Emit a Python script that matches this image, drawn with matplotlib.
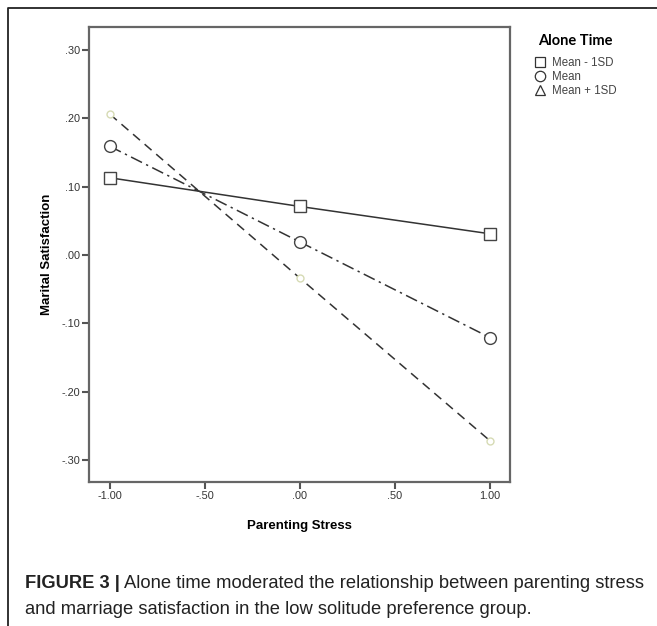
import matplotlib
matplotlib.use("Agg")
import matplotlib.pyplot as plt
from matplotlib.lines import Line2D

# data
stress = [-1.0, 0.0, 1.0]
low_alone = [0.113, 0.071, 0.031]      # Mean - 1SD
mean_alone = [0.159, 0.019, -0.121]    # Mean
high_alone = [0.206, -0.034, -0.272]   # Mean + 1SD

x_ticks = [-1.0, -0.5, 0.0, 0.5, 1.0]
x_labels = ["-1.00", "-.50", ".00", ".50", "1.00"]
y_ticks = [-0.3, -0.2, -0.1, 0.0, 0.1, 0.2, 0.3]
y_labels = ["-.30", "-.20", "-.10", ".00", ".10", ".20", ".30"]
legend_labels = ["Mean - 1SD", "Mean", "Mean + 1SD"]

W, H = 657, 626
plt.rcParams['font.family'] = ['Liberation Sans', 'DejaVu Sans']

fig = plt.figure(figsize=(W / 100, H / 100), dpi=100)
fig.patch.set_facecolor("white")

# axes placed in pixels
left, right, top, bottom = 89, 510, 27, 482
ax = fig.add_axes([left / W, 1 - bottom / H, (right - left) / W, (bottom - top) / H])

line_col = "#333333"
ax.plot(stress, low_alone, color=line_col, lw=1.1, ls="-",
        marker="s", ms=8.5, mfc="white", mec="#444444", mew=1.0)
ax.plot(stress, mean_alone, color=line_col, lw=1.1, ls=(0, (8, 3, 1.5, 3)),
        marker="o", ms=8.5, mfc="white", mec="#444444", mew=1.0)
ax.plot(stress, high_alone, color=line_col, lw=1.1, ls=(0, (6, 4)),
        marker="o", ms=5, mfc="white", mec="#d6dbb4", mew=1.0)

ax.set_xlim(-1.11, 1.105)
ax.set_ylim(-0.3323, 0.3337)
ax.set_xticks(x_ticks)
ax.set_xticklabels(x_labels)
ax.set_yticks(y_ticks)
ax.set_yticklabels(y_labels)
ax.tick_params(direction="out", length=5, width=1.5, color="#555555",
               labelsize=7.8, labelcolor="#333333", pad=1.5)
for s in ax.spines.values():
    s.set_color("#666666")
    s.set_linewidth(1.6)

ax.set_xlabel("Parenting Stress", fontsize=9.5, fontweight="bold", labelpad=14)
ax.set_ylabel("Marital Satisfaction", fontsize=9.5, fontweight="bold", labelpad=6)

# legend with proxy symbols
handles = [
    Line2D([], [], ls="none", marker="s", ms=7.5, mfc="white", mec="#333333", mew=0.9),
    Line2D([], [], ls="none", marker="o", ms=7.5, mfc="white", mec="#333333", mew=0.9),
    Line2D([], [], ls="none", marker="^", ms=6.5, mfc="white", mec="#333333", mew=0.9),
]
leg = fig.legend(handles, legend_labels, loc="upper left",
                 bbox_to_anchor=(530 / W, 1 - 29 / H), frameon=False,
                 title="Alone Time", fontsize=8.3, handlelength=0.9,
                 handletextpad=0.6, labelspacing=0.18, borderaxespad=0)
leg.get_title().set_fontfamily(["Lato", "DejaVu Sans"])
leg.get_title().set_fontweight("bold")
leg.get_title().set_fontsize(10.5)
leg._legend_box.sep = 7
for t in leg.get_texts():
    t.set_color("#444444")

# outer frame of the figure panel
fig.add_artist(Line2D([8 / W, 8 / W, 1], [0, 1 - 8 / H, 1 - 8 / H],
                      color="#222222", lw=1.3, transform=fig.transFigure))

# caption: bold lead-in, then regular text after it
cap_size = 13.2
lead = fig.text(25 / W, 1 - 583 / H, "FIGURE 3 |", fontsize=cap_size, fontweight="bold",
                va="center", ha="left", color="#222222")
fig.canvas.draw()
bb = lead.get_window_extent()
fig.text((bb.x1 + 4) / W, 1 - 583 / H,
         "Alone time moderated the relationship between parenting stress",
         fontsize=cap_size, va="center", ha="left", color="#222222")
fig.text(25 / W, 1 - 610 / H, "and marriage satisfaction in the low solitude preference group.",
         fontsize=cap_size, va="center", ha="left", color="#222222")

fig.savefig("out.png", dpi=100)
